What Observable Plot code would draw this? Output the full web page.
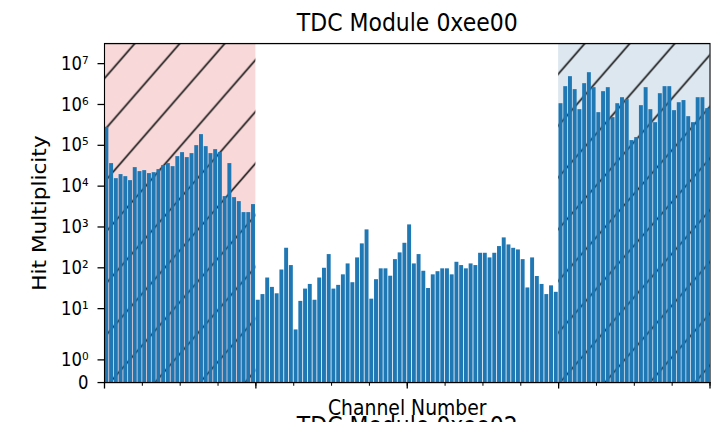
<!DOCTYPE html>
<html>
<head>
<meta charset="utf-8">
<script src="https://cdn.jsdelivr.net/npm/d3@7"></script>
<script src="https://cdn.jsdelivr.net/npm/@observablehq/plot@0.6"></script>
<style>
  html, body { margin: 0; padding: 0; background: #ffffff; }
  #chart svg { display: block; }
</style>
</head>
<body>
<div id="chart"></div>
<script>
// ---------------- data ----------------
const channels = d3.range(128);
const hits = [
  274000, 35500, 15200, 19100, 17000, 13600, 28300, 22600, 23900, 20200, 21300, 25300, 31700, 35500, 29900, 52600,
  65900, 49800, 62300, 97800, 182000, 92400, 62300, 78000, 65900, 5520, 35500, 5210, 4160, 2240, 2240, 3520,
  16, 22, 56, 33, 23, 88, 300, 113, 3, 15, 30, 39, 16, 56, 97, 210,
  30, 37, 67, 124, 43, 174, 384, 845, 17, 51, 94, 94, 62, 158, 231, 397,
  1120, 124, 210, 82, 31, 67, 80, 94, 94, 67, 136, 113, 94, 124, 113, 226,
  226, 174, 226, 330, 538, 362, 299, 273, 158, 32, 174, 61, 39, 22, 36, 25,
  1040000, 2720000, 4780000, 2300000, 743000, 3220000, 5980000, 2570000, 628000, 2050000, 2570000, 474000, 1040000, 1460000, 1310000, 130000,
  154000, 931000, 2570000, 743000, 357000, 1830000, 2720000, 2720000, 703000, 1100000, 1240000, 501000, 357000, 1460000, 1460000, 787000
];
const yTickValues = [0, 1, 10, 100, 1e3, 1e4, 1e5, 1e6, 1e7];
const yTickLabels = ["0", "10⁰", "10¹", "10²", "10³", "10⁴", "10⁵", "10⁶", "10⁷"];
const xMajorTicks = [0, 32, 64, 96, 128];
const xMinorTicks = [0, 8, 16, 24, 32, 40, 48, 56, 64, 72, 80, 88, 96, 104, 112, 120, 128];
const spanStart = [0, 96];
const spanEnd = [32, 128];
const spanFill = ["#f8d8d8", "#dde7f0"];
const titleText = "TDC Module 0xee00";
const nextTitleText = "TDC Module 0xee02";
const xLabel = "Channel Number";
const yLabel = "Hit Multiplicity";
const yMaxValue = 3.1e7;

// matplotlib-style symmetric log (linthresh 2, linscale 1)
const LINTHRESH = 2, LINSCALE = 1;
const LINADJ = LINSCALE / (1 - 1 / 10);
function symlog(v) {
  const s = Math.sign(v), m = Math.abs(v);
  return m <= LINTHRESH ? s * (m / LINTHRESH) * LINADJ : s * (LINADJ + Math.log10(m / LINTHRESH));
}

const data = channels.map((c, i) => ({channel: c, hits: hits[i]}));
const spans = spanStart.map((s, i) => ({start: s, end: spanEnd[i], fill: spanFill[i]}));
const tickLabelOf = new Map(yTickValues.map((v, i) => [symlog(v), yTickLabels[i]]));

// drawn at 713x367, then stretched vertically to 422 (reference is stretched)
const W = 713, H = 367, OUT_H = 422;

const svg = Plot.plot({
  width: W,
  height: H,
  marginLeft: 104,
  marginRight: 3.5,
  marginTop: 37.4,
  marginBottom: 34.8,
  style: {fontFamily: "DejaVu Sans", background: "#ffffff", color: "#000000", overflow: "hidden"},
  x: {type: "linear", domain: [0, 128], label: null},
  y: {type: "linear", domain: [0, symlog(yMaxValue)], label: null},
  marks: [
    ...spans.map(s => Plot.rect([s], {x1: "start", x2: "end", fill: s.fill})),
    Plot.rect(spans, {x1: "start", x2: "end", fill: "url(#hatch)"}),
    Plot.rect(data, {
      x1: "channel",
      x2: d => d.channel + 1,
      y1: 0,
      y2: d => symlog(d.hits),
      fill: "#1f77b4",
      insetLeft: 0.4,
      insetRight: 0.4
    }),
    Plot.axisY({
      ticks: yTickValues.map(symlog),
      tickFormat: d => tickLabelOf.get(d),
      tickSize: 6.5,
      tickPadding: 9.5,
      fontSize: 16.5,
      strokeWidth: 1.1,
      label: null
    }),
    Plot.axisX({ticks: xMinorTicks, tickSize: 3.2, tickFormat: () => "", strokeWidth: 1, label: null}),
    Plot.axisX({ticks: xMajorTicks, tickSize: 5.7, tickFormat: () => "", strokeWidth: 1.3, label: null}),
    Plot.frame({stroke: "#000000", strokeWidth: 1.1}),
    Plot.text([titleText], {frameAnchor: "top", dy: -11.3, lineAnchor: "bottom", fontSize: 22, fill: "#000"}),
    Plot.text([xLabel], {frameAnchor: "bottom", dy: 28.2, lineAnchor: "bottom", fontSize: 18.8, fill: "#000"}),
    Plot.text([nextTitleText], {frameAnchor: "bottom", dy: 44.8, lineAnchor: "bottom", fontSize: 22, fill: "#000"}),
    Plot.text([yLabel], {frameAnchor: "left", dx: -59, dy: 0, rotate: -90, textAnchor: "middle", lineAnchor: "bottom", fontSize: 18.8, fill: "#000"})
  ]
});

// hatch pattern ('/' lines at 45 degrees in drawing space)
const ns = "http://www.w3.org/2000/svg";
const defs = document.createElementNS(ns, "defs");
defs.innerHTML =
  '<pattern id="hatch" patternUnits="userSpaceOnUse" x="37.6" y="0" width="45" height="45">' +
  '<path d="M-5,5L5,-5M-5,50L50,-5M40,50L50,40" stroke="#111111" stroke-width="1.5" fill="none"/>' +
  '</pattern>';
svg.insertBefore(defs, svg.firstChild);

svg.setAttribute("height", OUT_H);
svg.setAttribute("preserveAspectRatio", "none");
svg.style.width = W + "px";
svg.style.height = OUT_H + "px";
svg.style.maxWidth = "none";

document.getElementById("chart").appendChild(svg);
</script>
</body>
</html>
